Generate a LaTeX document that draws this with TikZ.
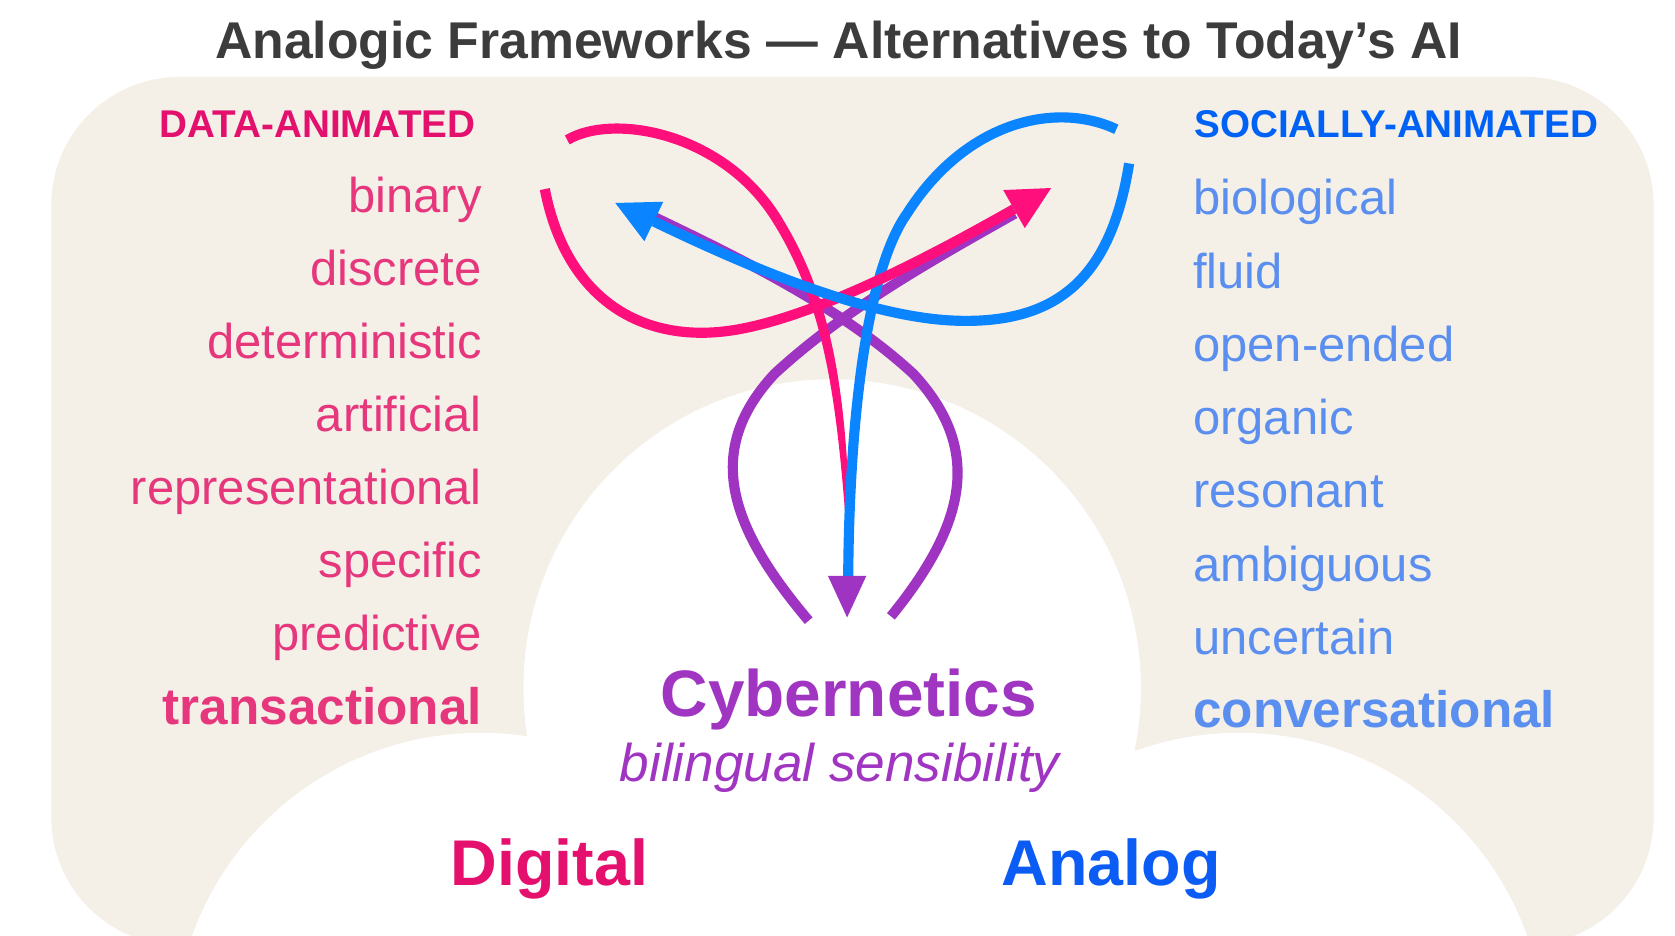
\documentclass[tikz,border=0pt]{standalone}
\usepackage{fontspec}
\setmainfont{Liberation Sans}
\usetikzlibrary{arrows.meta}
\definecolor{beige}{HTML}{F4F0E8}
\definecolor{titlec}{HTML}{3C3C3C}
\definecolor{dahead}{HTML}{E3106E}
\definecolor{leftc}{HTML}{E6377D}
\definecolor{sahead}{HTML}{0062F5}
\definecolor{rightc}{HTML}{5B8FEF}
\definecolor{cyber}{HTML}{A035C2}
\definecolor{digit}{HTML}{E5106E}
\definecolor{analog}{HTML}{0A5CF5}
\definecolor{mag}{HTML}{FF0F7B}
\definecolor{blu}{HTML}{0A84FF}
\definecolor{purp}{HTML}{9F33C2}
\begin{document}
\begin{tikzpicture}[x=1pt,y=-1pt,
  every node/.style={inner sep=0pt,outer sep=0pt},
  titletxt/.style={anchor=base,text=titlec,font=\fontsize{48.4}{56}\selectfont\bfseries},
  lhead/.style={anchor=base east,text=dahead,font=\fontsize{36.2}{42}\selectfont\bfseries},
  rhead/.style={anchor=base west,text=sahead,font=\fontsize{36.2}{42}\selectfont\bfseries},
  litem/.style={anchor=base east,text=leftc,font=\fontsize{45.8}{54}\selectfont},
  ritem/.style={anchor=base west,text=rightc,font=\fontsize{45.8}{54}\selectfont},
  lbold/.style={anchor=base east,text=leftc,font=\fontsize{48}{56}\selectfont\bfseries},
  rbold/.style={anchor=base west,text=rightc,font=\fontsize{48}{56}\selectfont\bfseries},
  bigtxt/.style={anchor=base,font=\fontsize{60.5}{70}\selectfont\bfseries},
  curve/.style={line width=9.5pt},
  tip/.style={-{Triangle[length=40pt,width=41pt,line width=0pt]}}
]
\useasboundingbox (0,0) rectangle (1568,876);
\begin{scope}
\clip (0,0) rectangle (1568,876);
\fill[beige,rounded corners=120pt] (48,72) rectangle (1548,885);
\fill[white] (779,644) circle[radius=289];
\fill[white] (450,973) circle[radius=287];
\fill[white] (1160,972) circle[radius=286];
\end{scope}

% title
\node[titletxt] (title) at (785,55) {Analogic Frameworks — Alternatives to Today’s AI};

% left list
\node[lhead] (dataan) at (445,129) {DATA-ANIMATED};
\node[litem] (l1) at (451,199) {binary};
\node[litem] (l2) at (451,267.5) {discrete};
\node[litem] (l3) at (451,335.7) {deterministic};
\node[litem] (l4) at (451,404) {artificial};
\node[litem] (l5) at (451,472) {representational};
\node[litem] (l6) at (451,540.5) {specific};
\node[litem] (l7) at (451,609) {predictive};
\node[lbold] (l8) at (451,678) {transactional};

% right list
\node[rhead] (socan) at (1118,129) {SOCIALLY-ANIMATED};
\node[ritem] (r1) at (1117,201) {biological};
\node[ritem] (r2) at (1117,270) {fluid};
\node[ritem] (r3) at (1117,338.5) {open-ended};
\node[ritem] (r4) at (1117,407) {organic};
\node[ritem] (r5) at (1117,475.5) {resonant};
\node[ritem] (r6) at (1117,544) {ambiguous};
\node[ritem] (r7) at (1117,612.5) {uncertain};
\node[rbold] (r8) at (1117,681) {conversational};

% centre labels
\node[bigtxt,text=cyber,font=\fontsize{61.5}{70}\selectfont\bfseries] (cyb) at (794.5,671) {Cybernetics};
\node[anchor=base,text=cyber,font=\fontsize{49.7}{58}\selectfont\itshape] (bil) at (786,732) {bilingual sensibility};
\node[bigtxt,text=digit] (dig) at (514.5,828.6) {Digital};
\node[bigtxt,text=analog] (ana) at (1040,828.6) {Analog};

% connector end points
\coordinate (pEs) at (757,581);
\coordinate (pEe) at (950,200);
\coordinate (pFs) at (834,577);
\coordinate (pFe) at (612,203);
\coordinate (mAs) at (531,131);
\coordinate (mAj) at (729,208);
\coordinate (mAe) at (796,541);
\coordinate (bBs) at (1045,121);
\coordinate (bBe) at (794,541);
\coordinate (mCs) at (510,177);
\coordinate (mCt) at (984,176);
\coordinate (bDs) at (1057,153);
\coordinate (bDt) at (576,190);
\coordinate (hT) at (793,578);
\coordinate (hL) at (775,539);
\coordinate (hR) at (811,539);

% purple loops (underneath)
\draw[curve,purp] (pEs) .. controls (680,490) and (660,420) .. (725,350) .. controls (790,290) and (870,245) .. (pEe);
\draw[curve,purp] (pFs) .. controls (905,490) and (920,420) .. (855,350) .. controls (790,290) and (700,245) .. (pFe);

% vertical magenta strand: arc, then tapering stem
\draw[curve,mag] (mAs) .. controls (575,105) and (680,125) .. (mAj);
\fill[mag] (733,205.6) .. controls (785.5,291.5) and (794.7,389.8) .. (796.5,541)
  -- (795.5,541) .. controls (785.3,390.2) and (776.5,294.5) .. (725,210.4) -- cycle;

% vertical blue strand
\draw[curve,blu] (bBs) .. controls (990,95) and (905,112) .. (849,200) .. controls (812,252) and (795,390) .. (bBe);

% crossing arrows
\draw[curve,mag,tip] (mCs) .. controls (530,280) and (600,320) .. (680,310) .. controls (760,300) and (880,235) .. (mCt);
\draw[curve,blu,tip] (bDs) .. controls (1040,260) and (990,305) .. (890,300) .. controls (800,295) and (680,240) .. (bDt);

% purple arrowhead
\fill[purp] (hT) -- (hL) -- (hR) -- cycle;
\end{tikzpicture}
\end{document}
